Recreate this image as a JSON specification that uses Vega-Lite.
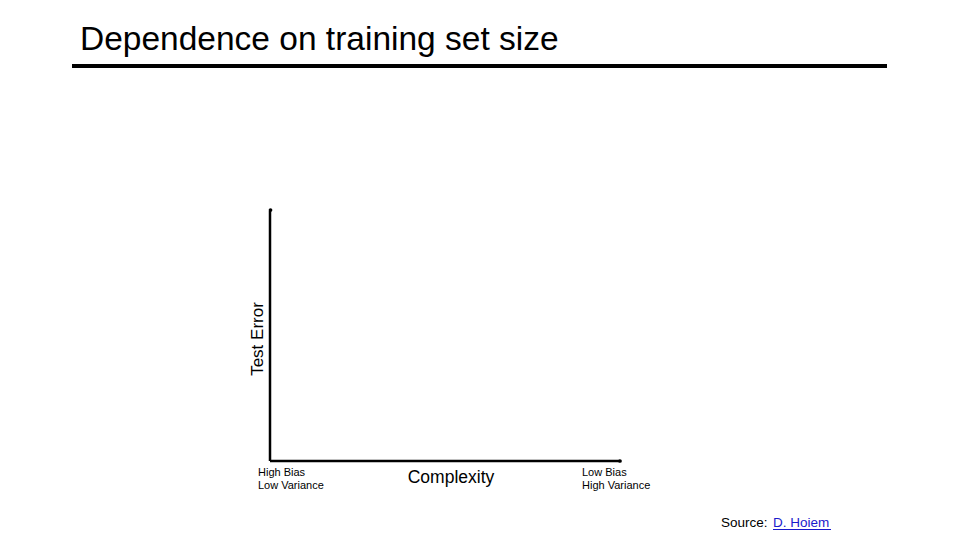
{
  "$schema": "https://vega.github.io/schema/vega-lite/v6.json",
  "width": 960,
  "height": 540,
  "autosize": {"type": "fit", "contains": "padding"},
  "padding": 0,
  "background": "white",
  "config": {"view": {"stroke": null}, "font": "Liberation Sans"},
  "layer": [
    {
      "data": {"values": [{"x": 72, "y": 66, "x2": 887, "y2": 66}]},
      "mark": {"type": "rule", "strokeWidth": 4, "color": "black"},
      "encoding": {
        "x": {"field": "x", "type": "quantitative", "scale": {"domain": [0, 960]}, "axis": null},
        "y": {"field": "y", "type": "quantitative", "scale": {"domain": [540, 0]}, "axis": null},
        "x2": {"field": "x2"},
        "y2": {"field": "y2"}
      }
    },
    {
      "data": {"values": [
        {"x": 270, "y": 211, "x2": 270, "y2": 461},
        {"x": 270, "y": 461, "x2": 620, "y2": 461}
      ]},
      "mark": {"type": "rule", "strokeWidth": 2.5, "color": "black"},
      "encoding": {
        "x": {"field": "x", "type": "quantitative", "scale": {"domain": [0, 960]}, "axis": null},
        "y": {"field": "y", "type": "quantitative", "scale": {"domain": [540, 0]}, "axis": null},
        "x2": {"field": "x2"},
        "y2": {"field": "y2"}
      }
    },
    {
      "data": {"values": [{"x": 270.5, "y": 210}, {"x": 620, "y": 461}]},
      "mark": {"type": "point", "filled": true, "size": 14, "color": "black", "opacity": 1},
      "encoding": {
        "x": {"field": "x", "type": "quantitative", "scale": {"domain": [0, 960]}, "axis": null},
        "y": {"field": "y", "type": "quantitative", "scale": {"domain": [540, 0]}, "axis": null}
      }
    },
    {
      "data": {"values": [{"x": 80, "y": 50, "label": "Dependence on training set size"}]},
      "mark": {"type": "text", "align": "left", "baseline": "alphabetic", "fontSize": 33.5, "color": "black"},
      "encoding": {
        "x": {"field": "x", "type": "quantitative", "scale": {"domain": [0, 960]}, "axis": null},
        "y": {"field": "y", "type": "quantitative", "scale": {"domain": [540, 0]}, "axis": null},
        "text": {"field": "label"}
      }
    },
    {
      "data": {"values": [
        {"x": 258, "y": 476, "label": "High Bias"},
        {"x": 258, "y": 489, "label": "Low Variance"},
        {"x": 582, "y": 476, "label": "Low Bias"},
        {"x": 582, "y": 489, "label": "High Variance"}
      ]},
      "mark": {"type": "text", "align": "left", "baseline": "alphabetic", "fontSize": 11, "color": "black"},
      "encoding": {
        "x": {"field": "x", "type": "quantitative", "scale": {"domain": [0, 960]}, "axis": null},
        "y": {"field": "y", "type": "quantitative", "scale": {"domain": [540, 0]}, "axis": null},
        "text": {"field": "label"}
      }
    },
    {
      "data": {"values": [{"x": 451, "y": 483, "label": "Complexity"}]},
      "mark": {"type": "text", "align": "center", "baseline": "alphabetic", "fontSize": 17.5, "color": "black"},
      "encoding": {
        "x": {"field": "x", "type": "quantitative", "scale": {"domain": [0, 960]}, "axis": null},
        "y": {"field": "y", "type": "quantitative", "scale": {"domain": [540, 0]}, "axis": null},
        "text": {"field": "label"}
      }
    },
    {
      "data": {"values": [{"x": 263, "y": 339, "label": "Test Error"}]},
      "mark": {"type": "text", "align": "center", "baseline": "alphabetic", "angle": 270, "fontSize": 17, "color": "black"},
      "encoding": {
        "x": {"field": "x", "type": "quantitative", "scale": {"domain": [0, 960]}, "axis": null},
        "y": {"field": "y", "type": "quantitative", "scale": {"domain": [540, 0]}, "axis": null},
        "text": {"field": "label"}
      }
    },
    {
      "data": {"values": [{"x": 721, "y": 527, "label": "Source:"}]},
      "mark": {"type": "text", "align": "left", "baseline": "alphabetic", "fontSize": 13.5, "color": "black"},
      "encoding": {
        "x": {"field": "x", "type": "quantitative", "scale": {"domain": [0, 960]}, "axis": null},
        "y": {"field": "y", "type": "quantitative", "scale": {"domain": [540, 0]}, "axis": null},
        "text": {"field": "label"}
      }
    },
    {
      "data": {"values": [{"x": 773, "y": 527, "label": "D. Hoiem"}]},
      "mark": {"type": "text", "align": "left", "baseline": "alphabetic", "fontSize": 13.5, "color": "#1a1acc"},
      "encoding": {
        "x": {"field": "x", "type": "quantitative", "scale": {"domain": [0, 960]}, "axis": null},
        "y": {"field": "y", "type": "quantitative", "scale": {"domain": [540, 0]}, "axis": null},
        "text": {"field": "label"}
      }
    },
    {
      "data": {"values": [{"x": 773, "y": 529.5, "x2": 831, "y2": 529.5}]},
      "mark": {"type": "rule", "strokeWidth": 1, "color": "#1a1acc"},
      "encoding": {
        "x": {"field": "x", "type": "quantitative", "scale": {"domain": [0, 960]}, "axis": null},
        "y": {"field": "y", "type": "quantitative", "scale": {"domain": [540, 0]}, "axis": null},
        "x2": {"field": "x2"},
        "y2": {"field": "y2"}
      }
    }
  ]
}
